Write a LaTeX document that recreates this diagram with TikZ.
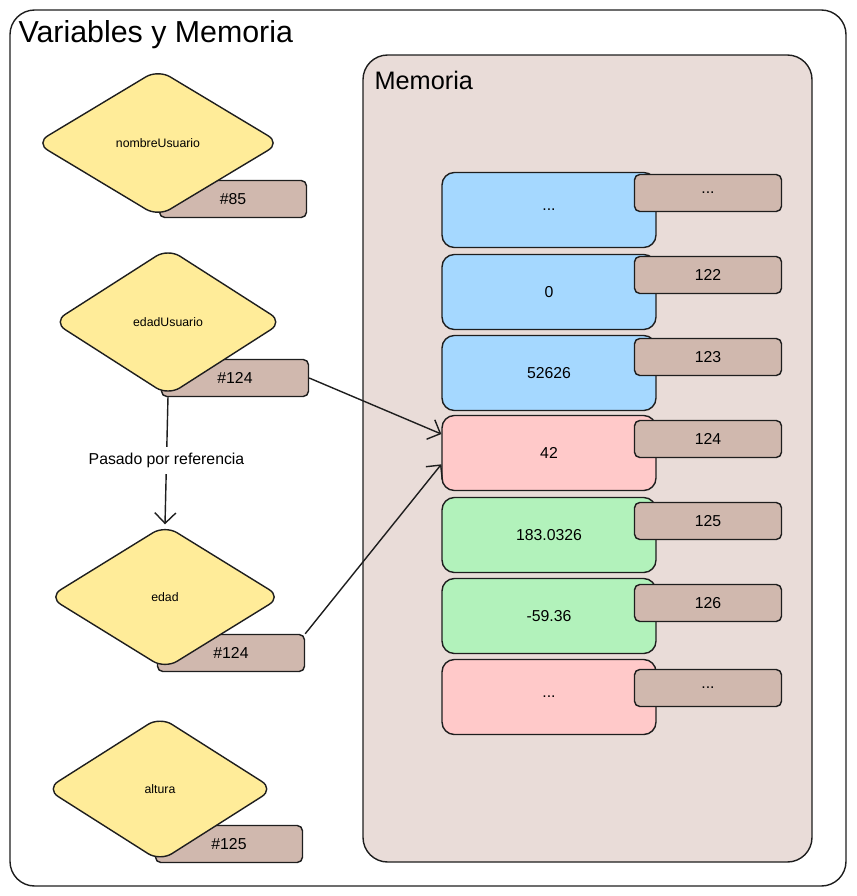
\documentclass[tikz,border=0pt]{standalone}
\usepackage{fontspec}
\setmainfont{Liberation Sans}
\usetikzlibrary{arrows.meta}
\usetikzlibrary{shapes.geometric}
\definecolor{memfill}{HTML}{E9DCD8}
\definecolor{tagfill}{HTML}{D0B8AE}
\definecolor{cellblue}{HTML}{A5D8FF}
\definecolor{cellred}{HTML}{FFC9C9}
\definecolor{cellgreen}{HTML}{B2F2BB}
\definecolor{varfill}{HTML}{FFEC99}
\definecolor{ink}{HTML}{1E1E1E}
\newcommand{\etc}{...}

\begin{document}
\begin{tikzpicture}[x=0.02cm,y=-0.02cm,line width=0.8pt,draw=ink,
  cell/.style={draw=ink,rounded corners=7pt,minimum width=4.28cm,minimum height=1.5cm,font=\small},
  addr/.style={draw=ink,fill=tagfill,rounded corners=3pt,minimum width=2.94cm,minimum height=0.74cm,font=\small},
  ptr/.style={draw=ink,fill=tagfill,rounded corners=3pt,minimum width=2.94cm,minimum height=0.74cm,font=\small},
  var/.style={diamond,draw=ink,fill=varfill,rounded corners=8pt,aspect=1.6,inner sep=0pt,font=\scriptsize},
  arrow/.style={-{Straight Barb[length=6pt]},draw=ink}]
\useasboundingbox (0,0) rectangle (856,896);
\draw[rounded corners=14pt] (10,10) rectangle (846,886);
\node (title) at (12,35) [anchor=west,font=\LARGE] {Variables y Memoria};
\draw[fill=memfill,rounded corners=14pt] (363,55) rectangle (812,862);
\node (memtitle) at (368,80) [anchor=west,font=\Large] {Memoria};
% memory cells
\foreach \name/\y/\ya/\col/\val/\adr in {c1/210/193/cellblue/\etc/\etc, c2/292/275/cellblue/0/122,
    c3/373/357/cellblue/52626/123, c4/453/439/cellred/42/124, c5/535/521/cellgreen/183.0326/125,
    c6/616/603/cellgreen/-59.36/126, c7/697/688/cellred/\etc/\etc} {
  \node (\name) at (549,\y) [cell,fill=\col] {\val};
  \node (a\name) at (708,\ya) [addr] {\adr};
}
% variable pointers
\node (p1) at (233,199) [ptr] {\#85};
\node (p2) at (235,378) [ptr] {\#124};
\node (p3) at (231,653) [ptr] {\#124};
\node (p4) at (229,844) [ptr] {\#125};
% variables
\node (v1) at (158,143) [var,minimum width=4.9cm,minimum height=2.95cm] {nombreUsuario};
\node (v2) at (168,322) [var,minimum width=4.6cm,minimum height=2.95cm] {edadUsuario};
\node (v3) at (165,597) [var,minimum width=4.66cm,minimum height=2.88cm] {edad};
\node (v4) at (160,789) [var,minimum width=4.56cm,minimum height=2.9cm] {altura};
\draw [arrow] (p2.east) -- (c4.170);
\draw [arrow] (p3.north east) -- (c4.186);
\draw [arrow] (v2.south) -- (v3.north) node[midway,fill=white,font=\small]{Pasado por referencia};
\end{tikzpicture}
\end{document}
